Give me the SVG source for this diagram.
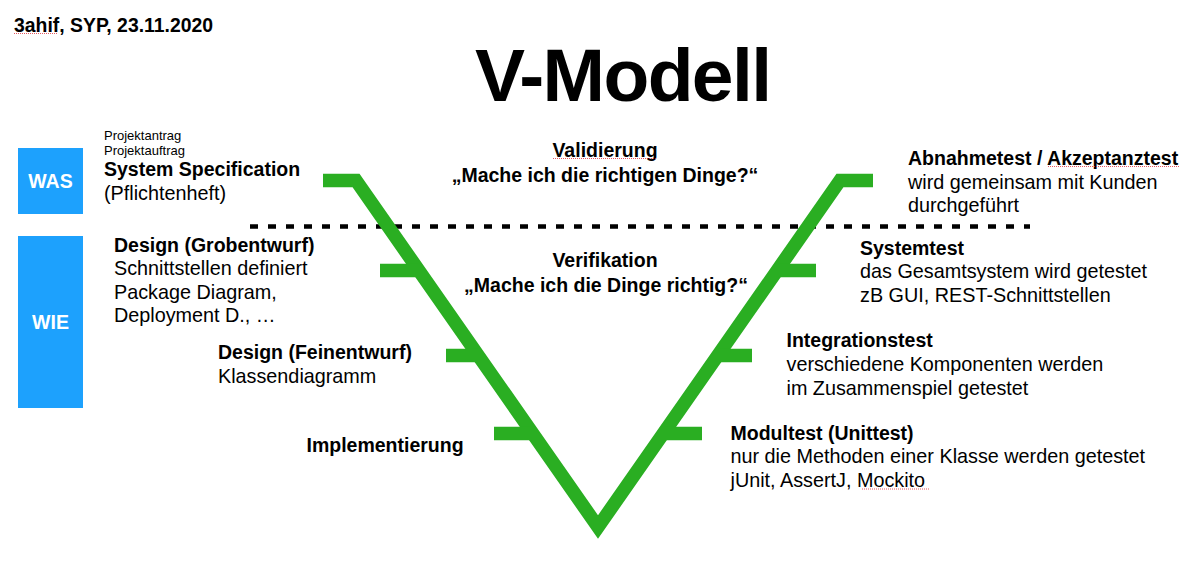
<svg xmlns="http://www.w3.org/2000/svg" width="1204" height="568" viewBox="0 0 1204 568">
  <style>
    text { font-family: "Liberation Sans", Arial, Helvetica, sans-serif; fill: #000; }
    .b { font-weight: bold; font-size: 19.5px; }
    .r { font-size: 19.8px; }
    .s { font-size: 13px; }
    .c { text-anchor: middle; }
    .box { fill: #1DA1FD; }
    .boxlabel { fill: #fff; font-weight: bold; font-size: 19.5px; text-anchor: middle; }
    .v { fill: none; stroke: #2AAE22; stroke-width: 13.5; stroke-linejoin: miter; stroke-miterlimit: 10; }
    .tick { stroke: #2AAE22; stroke-width: 13.5; }
    .sep { stroke: #000; stroke-width: 4.5; stroke-dasharray: 8 10; }
    .spell { stroke: #E0303A; stroke-width: 1; stroke-dasharray: 1 1; fill: none; opacity: 0.8; }
  </style>

  <g id="header">
    <text class="b" x="14" y="31.5" style="font-size:19.4px">3ahif, SYP, 23.11.2020</text>
    <line class="spell" x1="14" y1="33.5" x2="58" y2="33.5"/>
  </g>

  <g id="title">
    <text x="475" y="100.7" font-weight="bold" font-size="75" textLength="297" lengthAdjust="spacing">V-Modell</text>
  </g>

  <g id="was">
    <rect class="box" x="18" y="148" width="65" height="66"/>
    <text class="boxlabel" x="50.5" y="188">WAS</text>
  </g>

  <g id="wie">
    <rect class="box" x="18" y="236" width="65" height="172"/>
    <text class="boxlabel" x="50.5" y="329">WIE</text>
  </g>

  <g id="connectors">
    <line id="separator" class="sep" x1="250" y1="226.5" x2="1030" y2="226.5"/>
    <polyline id="v-shape" class="v" points="323,180.5 356,180.5 598,527 840,180.5 873,180.5"/>
    <line class="tick" x1="380" y1="270.5" x2="418" y2="270.5"/>
    <line class="tick" x1="446" y1="355.5" x2="478" y2="355.5"/>
    <line class="tick" x1="494" y1="433.5" x2="532" y2="433.5"/>
    <line class="tick" x1="778" y1="270.5" x2="816" y2="270.5"/>
    <line class="tick" x1="718" y1="355.5" x2="752" y2="355.5"/>
    <line class="tick" x1="664" y1="433.5" x2="702" y2="433.5"/>
  </g>

  <g id="system-specification">
    <text class="s" x="104" y="139.5">Projektantrag</text>
    <text class="s" x="104" y="155">Projektauftrag</text>
    <text class="b" x="104" y="176">System Specification</text>
    <text class="r" x="104" y="199.5">(Pflichtenheft)</text>
  </g>

  <g id="validierung">
    <text class="b c" x="605" y="156.5">Validierung</text>
    <line class="spell" x1="553" y1="158.5" x2="657" y2="158.5"/>
    <text class="b c" x="605" y="181.5">„Mache ich die richtigen Dinge?“</text>
  </g>

  <g id="abnahmetest">
    <text class="b" x="908" y="164.5">Abnahmetest / Akzeptanztest</text>
    <line class="spell" x1="1048" y1="166.5" x2="1179" y2="166.5"/>
    <text class="r" x="908" y="188.5">wird gemeinsam mit Kunden</text>
    <text class="r" x="908" y="212">durchgeführt</text>
  </g>

  <g id="grobentwurf">
    <text class="b" x="114" y="252">Design (Grobentwurf)</text>
    <text class="r" x="114" y="275">Schnittstellen definiert</text>
    <text class="r" x="114" y="298.5">Package Diagram,</text>
    <text class="r" x="114" y="322">Deployment D., …</text>
  </g>

  <g id="verifikation">
    <text class="b c" x="605" y="267">Verifikation</text>
    <text class="b c" x="606" y="291.5">„Mache ich die Dinge richtig?“</text>
  </g>

  <g id="systemtest">
    <text class="b" x="860" y="254.5">Systemtest</text>
    <text class="r" x="860" y="278">das Gesamtsystem wird getestet</text>
    <text class="r" x="860" y="302">zB GUI, REST-Schnittstellen</text>
  </g>

  <g id="feinentwurf">
    <text class="b" x="218" y="358.5">Design (Feinentwurf)</text>
    <text class="r" x="218" y="382.5">Klassendiagramm</text>
  </g>

  <g id="integrationstest">
    <text class="b" x="786.5" y="347">Integrationstest</text>
    <text class="r" x="786.5" y="370.5">verschiedene Komponenten werden</text>
    <text class="r" x="786.5" y="394.5">im Zusammenspiel getestet</text>
  </g>

  <g id="implementierung">
    <text class="b" x="306.5" y="452">Implementierung</text>
  </g>

  <g id="modultest">
    <text class="b" x="730.5" y="439.5">Modultest (Unittest)</text>
    <text class="r" x="730.5" y="463">nur die Methoden einer Klasse werden getestet</text>
    <text class="r" x="730.5" y="486.5">jUnit, AssertJ, Mockito</text>
    <line class="spell" x1="862" y1="489" x2="930" y2="489"/>
  </g>
</svg>
